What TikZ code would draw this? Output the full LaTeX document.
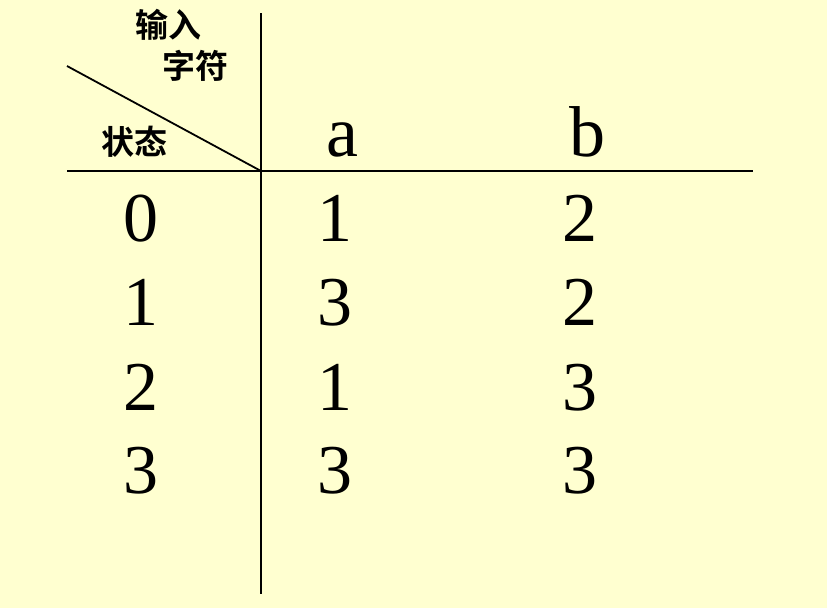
\documentclass[tikz,border=0pt]{standalone}
\usepackage{fontspec}
\setmainfont{Liberation Serif}
\newfontfamily\cjk{Noto Sans CJK SC Bold}
\definecolor{bgyellow}{RGB}{255,255,208}
\begin{document}
\begin{tikzpicture}[x=1pt,y=-1pt,
  rule/.style={line width=2pt,draw=black},
  digit/.style={inner sep=0pt,anchor=base,font=\fontsize{70}{70}\selectfont},
  head/.style={inner sep=0pt,anchor=base,font=\fontsize{72}{72}\selectfont},
  label/.style={inner sep=0pt,anchor=center,font=\cjk\fontsize{33}{33}\selectfont}]
\fill[bgyellow] (0,0) rectangle (827,608);
\useasboundingbox (0,0) rectangle (827,608);
% lines
\coordinate (vt) at (261,13);
\coordinate (vb) at (261,594);
\coordinate (hl) at (67,171);
\coordinate (hr) at (753,171);
\coordinate (dl) at (67,66);
\coordinate (dr) at (261,171);
\draw[rule] (vt) -- (vb);
\draw[rule] (hl) -- (hr);
\draw[line width=1.8pt] (dl) -- (dr);
% header labels
\node[label] (in) at (168,25) {输入};
\node[label] (zf) at (195,66) {字符};
\node[label] (zt) at (134,142) {状态};
\node[head] (ha) at (342,156) {a};
\node[head] (hb) at (587,156) {b};
% rows
\node[digit] (s0) at (141,241) {0};
\node[digit] (s1) at (141,325) {1};
\node[digit] (s2) at (141,410) {2};
\node[digit] (s3) at (141,493) {3};
\node[digit] (a0) at (335,241) {1};
\node[digit] (a1) at (335,325) {3};
\node[digit] (a2) at (335,410) {1};
\node[digit] (a3) at (335,493) {3};
\node[digit] (b0) at (580,241) {2};
\node[digit] (b1) at (580,325) {2};
\node[digit] (b2) at (580,410) {3};
\node[digit] (b3) at (580,493) {3};
\end{tikzpicture}
\end{document}
